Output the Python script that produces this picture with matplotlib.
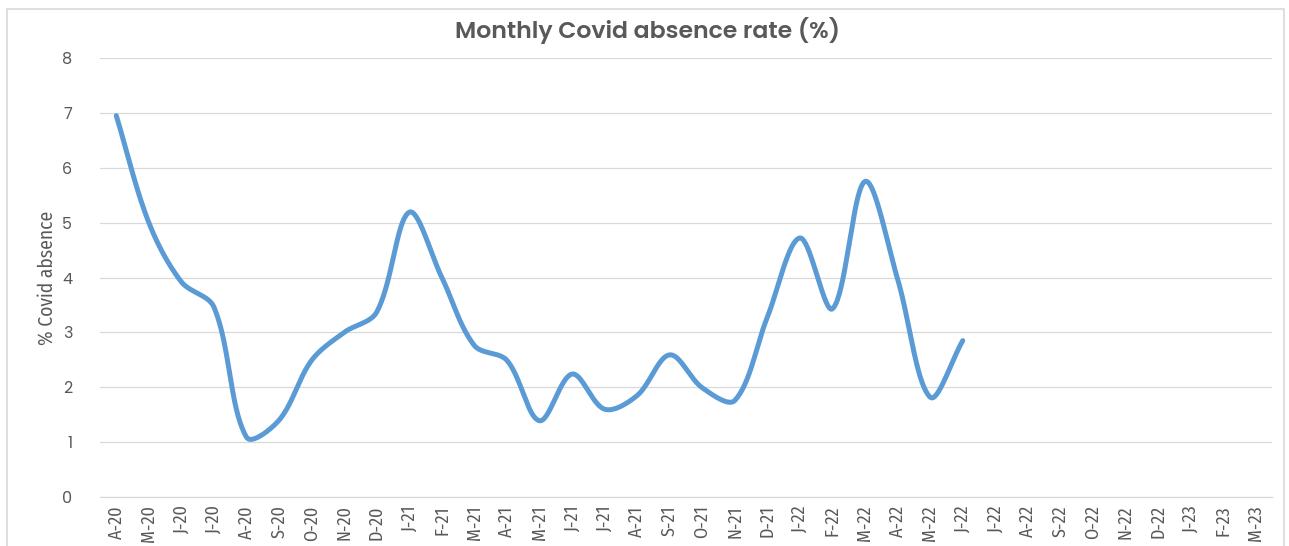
import matplotlib
matplotlib.use("Agg")
import matplotlib.pyplot as plt
import numpy as np
from matplotlib.patches import Rectangle

months = ["A-20", "M-20", "J-20", "J-20", "A-20", "S-20", "O-20", "N-20", "D-20",
          "J-21", "F-21", "M-21", "A-21", "M-21", "J-21", "J-21", "A-21", "S-21",
          "O-21", "N-21", "D-21", "J-22", "F-22", "M-22", "A-22", "M-22", "J-22",
          "J-22", "A-22", "S-22", "O-22", "N-22", "D-22", "J-23", "F-23", "M-23"]
absence = [6.95, 5.0, 3.92, 3.46, 1.09, 1.4, 2.49, 3.0, 3.37,
           5.19, 4.0, 2.76, 2.49, 1.39, 2.24, 1.6, 1.85, 2.59,
           1.99, 1.76, 3.28, 4.72, 3.43, 5.75, 3.97, 1.82, 2.85]
yticks = [0, 1, 2, 3, 4, 5, 6, 7, 8]

GEO = ["Poppins", "DejaVu Sans"]
NARROW = ["Fira Sans Condensed", "DejaVu Sans"]


def excel_smooth(x, y, sx=32.5, sy=55.0, n=40):
    """Bezier smoothing with tangents scaled by neighbouring segment lengths."""
    x = np.asarray(x, float); y = np.asarray(y, float)
    P = np.column_stack([x * sx, y * sy])
    N = len(P)
    out = []
    for i in range(N - 1):
        p0 = P[max(i - 1, 0)]; p1 = P[i]; p2 = P[i + 1]; p3 = P[min(i + 2, N - 1)]
        d01 = np.linalg.norm(p1 - p0); d12 = np.linalg.norm(p2 - p1); d23 = np.linalg.norm(p3 - p2)
        if d01 > 0:
            c1 = p1 + (p2 - p0) * (d12 / (d01 + d12)) / 3.0
        else:
            c1 = p1 + (p2 - p1) / 3.0
        if d23 > 0:
            c2 = p2 - (p3 - p1) * (d12 / (d12 + d23)) / 3.0
        else:
            c2 = p2 - (p2 - p1) / 3.0
        t = np.linspace(0, 1, n)[:, None]
        pts = (1 - t) ** 3 * p1 + 3 * (1 - t) ** 2 * t * c1 + 3 * (1 - t) * t ** 2 * c2 + t ** 3 * p2
        out.append(pts)
    pts = np.vstack(out)
    return pts[:, 0] / sx, pts[:, 1] / sy


W, H = 1289, 546
fig = plt.figure(figsize=(W / 100, H / 100), dpi=100)
fig.patch.set_facecolor("white")

fig.patches.append(Rectangle((7 / W, -0.01), (1284 - 7) / W, (H - 9) / H + 0.01,
                             transform=fig.transFigure, fill=False,
                             edgecolor="#D9D9D9", linewidth=1.2))

ax = fig.add_axes([100 / W, 49 / H, (1272 - 100) / W, (497 - 58) / H])
xpos = np.arange(len(months))
sx, sy = excel_smooth(xpos[:len(absence)], absence)
ax.plot(sx, sy, color="#5B9BD5", linewidth=3.6, solid_capstyle="round", zorder=3)

ax.set_xlim(-0.5, len(months) - 0.5)
ax.set_ylim(0, 8)
ax.set_yticks(yticks)
ax.set_yticklabels([str(v) for v in yticks], color="#595959", fontsize=11.5, family=GEO)
ax.set_xticks(xpos)
ax.set_xticklabels(months, rotation=90, color="#595959", fontsize=13, family=NARROW)
ax.tick_params(axis="both", length=0)
ax.tick_params(axis="y", pad=20)
ax.tick_params(axis="x", pad=6)
ax.grid(axis="y", color="#D9D9D9", linewidth=0.9)
ax.set_axisbelow(True)
for s in ["top", "right", "left"]:
    ax.spines[s].set_visible(False)
ax.spines["bottom"].set_color("#D9D9D9")
ax.spines["bottom"].set_linewidth(0.9)

ax.set_ylabel("% Covid absence", color="#595959", fontsize=14, family=NARROW, labelpad=4)

fig.text(648 / W, 1 - 30 / H, "Monthly Covid absence rate (%)", ha="center", va="center",
         fontsize=17, fontweight="semibold", color="#595959", family=GEO)

fig.savefig("out.png", dpi=100, facecolor="white")
